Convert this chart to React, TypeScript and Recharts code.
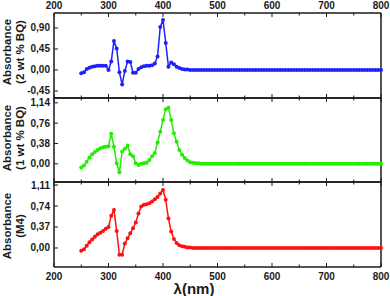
import { LineChart, Line, XAxis, YAxis } from "recharts"

// wavelength grid, 5 nm steps
const wavelengths: number[] = Array.from({ length: 111 }, (_, i) => 250 + i * 5)

// 2 wt % BQ
const bq2: number[] = [
  -0.07, -0.05, 0.02, 0.05, 0.07, 0.08, 0.09, 0.09, 0.09, 0.09,
  0.0, 0.18, 0.62, 0.46, -0.05, -0.31, -0.02, 0.18, 0.17, -0.06,
  -0.06, 0.02, 0.06, 0.08, 0.09, 0.09, 0.1, 0.14, 0.29, 0.92,
  1.07, 0.58, 0.07, 0.16, 0.12, 0.07, 0.04, 0.02, 0.01, 0.01,
  0, 0, 0, 0, 0, 0, 0, 0, 0, 0,
  0, 0, 0, 0, 0, 0, 0, 0, 0, 0,
  0, 0, 0, 0, 0, 0, 0, 0, 0, 0,
  0, 0, 0, 0, 0, 0, 0, 0, 0, 0,
  0, 0, 0, 0, 0, 0, 0, 0, 0, 0,
  0, 0, 0, 0, 0, 0, 0, 0, 0, 0,
  0, 0, 0, 0, 0, 0, 0, 0, 0, 0,
  0,
]

// 1 wt % BQ
const bq1: number[] = [
  -0.07, -0.03, 0.04, 0.12, 0.18, 0.22, 0.26, 0.29, 0.31, 0.32,
  0.33, 0.56, 0.32, 0.01, -0.16, 0.23, 0.28, 0.34, 0.18, 0.14,
  0.01, -0.02, 0.0, 0.01, 0.02, 0.07, 0.14, 0.2, 0.4, 0.6,
  0.82, 1.02, 1.05, 0.82, 0.57, 0.41, 0.26, 0.17, 0.11, 0.06,
  0.03, 0.02, 0.01, 0.01, 0, 0, 0, 0, 0, 0,
  0, 0, 0, 0, 0, 0, 0, 0, 0, 0,
  0, 0, 0, 0, 0, 0, 0, 0, 0, 0,
  0, 0, 0, 0, 0, 0, 0, 0, 0, 0,
  0, 0, 0, 0, 0, 0, 0, 0, 0, 0,
  0, 0, 0, 0, 0, 0, 0, 0, 0, 0,
  0, 0, 0, 0, 0, 0, 0, 0, 0, 0,
  0,
]

// M4
const m4: number[] = [
  -0.05, -0.02, 0.04, 0.1, 0.15, 0.2, 0.24, 0.27, 0.3, 0.34,
  0.37, 0.57, 0.67, 0.3, -0.12, -0.12, 0.08, 0.17, 0.26, 0.35,
  0.45, 0.61, 0.73, 0.76, 0.77, 0.79, 0.82, 0.86, 0.9, 0.96,
  1.02, 0.85, 0.52, 0.29, 0.16, 0.09, 0.05, 0.03, 0.02, 0.01,
  0.01, 0, 0, 0, 0, 0, 0, 0, 0, 0,
  0, 0, 0, 0, 0, 0, 0, 0, 0, 0,
  0, 0, 0, 0, 0, 0, 0, 0, 0, 0,
  0, 0, 0, 0, 0, 0, 0, 0, 0, 0,
  0, 0, 0, 0, 0, 0, 0, 0, 0, 0,
  0, 0, 0, 0, 0, 0, 0, 0, 0, 0,
  0, 0, 0, 0, 0, 0, 0, 0, 0, 0,
  0,
]

const xTicks = [200, 250, 300, 350, 400, 450, 500, 550, 600, 650, 700, 750, 800]
const ticksBq2 = [-0.45, 0, 0.45, 0.9]
const ticksBq1 = [0, 0.38, 0.76, 1.14]
const ticksM4 = [0, 0.37, 0.74, 1.11]

const FONT = "'Liberation Sans', Arial, sans-serif"
const INK = "#1a1a1a"
const LEFT = 54
const RIGHT = 381
const PAD = 16

const fmt = (v: number) => v.toFixed(2).replace(".", ",")

type PanelProps = {
  top: number
  h: number
  values: number[]
  color: string
  domain: [number, number]
  ticks: number[]
  topLabels?: boolean
  bottomLabels?: boolean
}

function Panel({ top, h, values, color, domain, ticks, topLabels, bottomLabels }: PanelProps) {
  const data = wavelengths.map((w, i) => ({ w, v: values[i] }))
  const yTop = PAD
  const yBot = PAD + h
  const frame = { stroke: INK, strokeWidth: 1.5 }

  const xTick = (side: "t" | "b", labels?: boolean) => (p: any) => {
    const v = p.payload.value
    const major = v % 100 === 0
    const len = major ? 4 : 2.5
    const y0 = side === "t" ? yTop : yBot
    const y1 = side === "t" ? yTop + len : yBot - len
    return (
      <g>
        <line x1={p.x} x2={p.x} y1={y0} y2={y1} stroke={INK} strokeWidth={1} />
        {labels && major && (
          <text x={p.x} y={side === "t" ? yTop - 8 : yBot + 9} textAnchor="middle" dominantBaseline="central"
            fontFamily={FONT} fontWeight="bold" fontSize={10} fill={INK}>
            {v}
          </text>
        )}
      </g>
    )
  }

  return (
    <LineChart width={390} height={h + PAD * 2} data={data}
      margin={{ top: 0, right: 0, bottom: 0, left: 0 }}
      style={{ position: "absolute", left: 0, top: top - PAD }}>
      <XAxis xAxisId="t" orientation="top" dataKey="w" type="number" domain={[200, 800]} ticks={xTicks}
        height={PAD} axisLine={frame} tickLine={false} tick={xTick("t", topLabels)} interval={0} />
      <XAxis xAxisId="b" dataKey="w" type="number" domain={[200, 800]} ticks={xTicks}
        height={PAD} axisLine={frame} tickLine={false} tick={xTick("b", bottomLabels)} interval={0} />
      <YAxis yAxisId="l" width={LEFT} type="number" domain={domain} ticks={ticks} interval={0}
        axisLine={frame} tickLine={false}
        tick={(p: any) => (
          <g>
            <line x1={LEFT} x2={LEFT + 4} y1={p.y} y2={p.y} stroke={INK} strokeWidth={1} />
            <text x={LEFT - 4} y={p.y} textAnchor="end" dominantBaseline="central"
              fontFamily={FONT} fontWeight="bold" fontSize={10} fill={INK}>
              {fmt(p.payload.value)}
            </text>
          </g>
        )} />
      <YAxis yAxisId="r" orientation="right" width={390 - RIGHT} type="number" domain={domain} ticks={ticks}
        interval={0} axisLine={frame} tickLine={false}
        tick={(p: any) => <line x1={RIGHT - 4} x2={RIGHT} y1={p.y} y2={p.y} stroke={INK} strokeWidth={1} />} />
      <Line xAxisId="b" yAxisId="l" dataKey="v" stroke={color} strokeWidth={1.5}
        dot={{ r: 2, fill: color, stroke: color, strokeWidth: 0 }} isAnimationActive={false} />
    </LineChart>
  )
}

function YTitle({ x, y, lines }: { x: number; y: number; lines: string[] }) {
  return (
    <>
      {lines.map((t, i) => (
        <text key={i} transform={`translate(${x + i * 13},${y}) rotate(-90)`} textAnchor="middle"
          dominantBaseline="central" fontFamily={FONT} fontWeight="bold" fontSize={11.5} fill={INK}>
          {t}
        </text>
      ))}
    </>
  )
}

export default function App() {
  return (
    <div style={{ position: "absolute", left: 0, top: 0, width: 390, height: 296, background: "#fff" }}>
      <Panel top={13} h={85} values={bq2} color="#1f1fff" domain={[-0.6, 1.22]} ticks={ticksBq2} topLabels />
      <Panel top={98} h={84} values={bq1} color="#22ee00" domain={[-0.34, 1.23]} ticks={ticksBq1} />
      <Panel top={182} h={85} values={m4} color="#ff1010" domain={[-0.335, 1.163]} ticks={ticksM4} bottomLabels />
      <svg width={390} height={296} style={{ position: "absolute", left: 0, top: 0, pointerEvents: "none" }}>
        <YTitle x={7} y={52} lines={["Absorbance", "(2 wt % BQ)"]} />
        <YTitle x={7} y={138} lines={["Absorbance", "(1 wt % BQ)"]} />
        <YTitle x={7} y={226} lines={["Absorbance", "(M4)"]} />
        <text x={194} y={288} textAnchor="middle" dominantBaseline="central" fontFamily={FONT}
          fontWeight="bold" fontSize={15} fill={INK}>
          λ(nm)
        </text>
      </svg>
    </div>
  )
}
